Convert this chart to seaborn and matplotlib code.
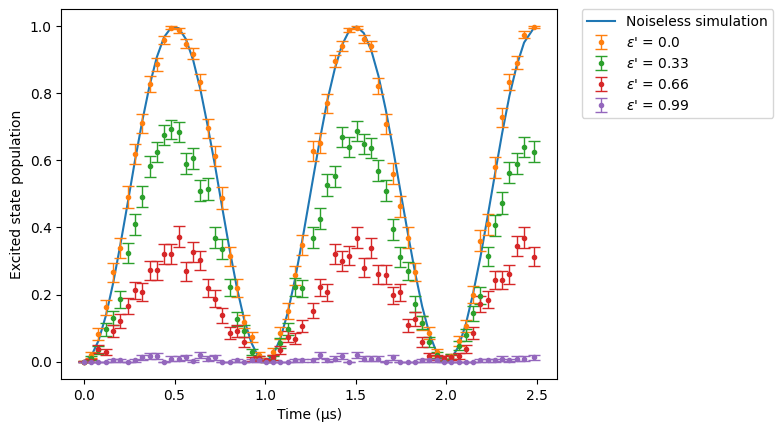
import matplotlib
matplotlib.use("Agg")
import matplotlib.pyplot as plt
import seaborn as sns

# =============================================================================
# 1. DATOS
# =============================================================================
# tiempos de medida en microsegundos (hay un salto tras 1.206 y antes del ultimo)
tiempo = [0.000, 0.040, 0.080, 0.121, 0.161, 0.201, 0.241, 0.281, 0.322, 0.362,
          0.402, 0.442, 0.482, 0.523, 0.563, 0.603, 0.643, 0.683, 0.724, 0.764,
          0.804, 0.844, 0.884, 0.925, 0.965, 1.005, 1.045, 1.085, 1.126, 1.166,
          1.206,
          1.264, 1.304, 1.344, 1.385, 1.425, 1.465, 1.505, 1.545, 1.586, 1.626,
          1.666, 1.706, 1.746, 1.787, 1.827, 1.867, 1.907, 1.947, 1.988, 2.028,
          2.068, 2.108, 2.148, 2.189, 2.229, 2.269, 2.309, 2.349, 2.390, 2.430,
          2.487]

# simulacion sin ruido
simulacion = [0.000, 0.016, 0.062, 0.137, 0.234, 0.349, 0.472, 0.598, 0.718, 0.823,
              0.908, 0.968, 0.997, 0.995, 0.962, 0.899, 0.811, 0.703, 0.583, 0.457,
              0.334, 0.221, 0.126, 0.055, 0.012, 0.000, 0.020, 0.070, 0.148, 0.248,
              0.364,
              0.544, 0.667, 0.780, 0.874, 0.945, 0.988, 1.000, 0.980, 0.929, 0.852,
              0.752, 0.636, 0.512, 0.386, 0.268, 0.165, 0.083, 0.027, 0.002, 0.008,
              0.045, 0.111, 0.202, 0.312, 0.434, 0.559, 0.682, 0.793, 0.885, 0.952,
              0.998]

eps_labels = ["0.0", "0.33", "0.66", "0.99"]
colores = ["tab:orange", "tab:green", "tab:red", "tab:purple"]

pob_00 = [0.000, 0.020, 0.082, 0.162, 0.266, 0.339, 0.491, 0.619, 0.711, 0.828,
          0.887, 0.960, 0.996, 0.988, 0.949, 0.919, 0.834, 0.696, 0.613, 0.488,
          0.314, 0.219, 0.119, 0.073, 0.020, 0.003, 0.029, 0.085, 0.151, 0.257,
          0.349,
          0.628, 0.653, 0.770, 0.897, 0.943, 0.990, 0.996, 0.963, 0.942, 0.822,
          0.709, 0.560, 0.463, 0.370, 0.267, 0.115, 0.085, 0.027, 0.005, 0.015,
          0.062, 0.106, 0.200, 0.361, 0.409, 0.580, 0.729, 0.834, 0.892, 0.975,
          0.998]
err_00 = [0.002, 0.009, 0.017, 0.023, 0.028, 0.030, 0.032, 0.031, 0.029, 0.024,
          0.020, 0.012, 0.004, 0.007, 0.014, 0.017, 0.024, 0.029, 0.031, 0.032,
          0.029, 0.026, 0.020, 0.016, 0.009, 0.003, 0.011, 0.018, 0.023, 0.028,
          0.030,
          0.031, 0.030, 0.027, 0.019, 0.015, 0.006, 0.004, 0.012, 0.015, 0.024,
          0.029, 0.031, 0.032, 0.031, 0.028, 0.020, 0.018, 0.010, 0.004, 0.008,
          0.015, 0.019, 0.025, 0.030, 0.031, 0.031, 0.028, 0.024, 0.020, 0.010,
          0.003]

pob_33 = [0.000, 0.010, 0.035, 0.096, 0.131, 0.186, 0.324, 0.409, 0.492, 0.582,
          0.625, 0.676, 0.693, 0.685, 0.590, 0.607, 0.510, 0.515, 0.370, 0.336,
          0.221, 0.128, 0.092, 0.028, 0.010, 0.003, 0.010, 0.056, 0.097, 0.223,
          0.218,
          0.369, 0.426, 0.527, 0.553, 0.670, 0.640, 0.688, 0.649, 0.637, 0.569,
          0.510, 0.394, 0.312, 0.270, 0.171, 0.116, 0.058, 0.020, 0.005, 0.014,
          0.047, 0.079, 0.144, 0.196, 0.314, 0.406, 0.473, 0.564, 0.590, 0.641,
          0.626]
err_33 = [0.002, 0.006, 0.012, 0.019, 0.021, 0.025, 0.030, 0.031, 0.032, 0.031,
          0.031, 0.030, 0.029, 0.029, 0.031, 0.031, 0.032, 0.032, 0.031, 0.030,
          0.026, 0.021, 0.018, 0.010, 0.006, 0.003, 0.006, 0.015, 0.019, 0.026,
          0.026,
          0.031, 0.031, 0.032, 0.031, 0.030, 0.030, 0.029, 0.030, 0.030, 0.031,
          0.032, 0.031, 0.029, 0.028, 0.024, 0.020, 0.015, 0.009, 0.004, 0.007,
          0.013, 0.017, 0.022, 0.025, 0.029, 0.031, 0.032, 0.031, 0.031, 0.030,
          0.031]

pob_66 = [0.000, 0.003, 0.037, 0.028, 0.092, 0.120, 0.166, 0.212, 0.208, 0.272,
          0.272, 0.322, 0.322, 0.373, 0.269, 0.328, 0.302, 0.220, 0.188, 0.138,
          0.086, 0.090, 0.059, 0.008, 0.010, 0.005, 0.012, 0.034, 0.074, 0.068,
          0.106,
          0.152, 0.221, 0.206, 0.322, 0.300, 0.316, 0.369, 0.280, 0.339, 0.260,
          0.259, 0.198, 0.206, 0.108, 0.126, 0.059, 0.017, 0.012, 0.010, 0.012,
          0.017, 0.037, 0.085, 0.171, 0.184, 0.243, 0.243, 0.260, 0.346, 0.369,
          0.313]
err_66 = [0.002, 0.004, 0.012, 0.010, 0.018, 0.021, 0.024, 0.026, 0.026, 0.028,
          0.028, 0.030, 0.030, 0.031, 0.028, 0.030, 0.029, 0.026, 0.025, 0.022,
          0.018, 0.018, 0.015, 0.006, 0.006, 0.004, 0.007, 0.011, 0.017, 0.016,
          0.019,
          0.023, 0.026, 0.026, 0.030, 0.029, 0.029, 0.031, 0.028, 0.030, 0.028,
          0.028, 0.025, 0.026, 0.020, 0.021, 0.015, 0.008, 0.007, 0.006, 0.007,
          0.008, 0.012, 0.018, 0.024, 0.025, 0.027, 0.027, 0.028, 0.030, 0.031,
          0.029]

pob_99 = [0.000, 0.000, 0.000, 0.000, 0.004, 0.004, 0.000, 0.004, 0.013, 0.017,
          0.017, 0.000, 0.009, 0.009, 0.013, 0.002, 0.019, 0.009, 0.013, 0.000,
          0.000, 0.004, 0.000, 0.004, 0.004, 0.000, 0.000, 0.000, 0.000, 0.004,
          0.004,
          0.004, 0.019, 0.004, 0.009, 0.017, 0.000, 0.019, 0.009, 0.009, 0.009,
          0.000, 0.013, 0.000, 0.000, 0.000, 0.004, 0.004, 0.004, 0.000, 0.000,
          0.000, 0.000, 0.000, 0.004, 0.004, 0.004, 0.009, 0.004, 0.009, 0.009,
          0.013]
err_99 = [0.000, 0.000, 0.000, 0.000, 0.004, 0.004, 0.000, 0.004, 0.007, 0.008,
          0.008, 0.000, 0.006, 0.006, 0.007, 0.003, 0.009, 0.006, 0.007, 0.000,
          0.000, 0.004, 0.000, 0.004, 0.004, 0.000, 0.000, 0.000, 0.000, 0.004,
          0.004,
          0.004, 0.009, 0.004, 0.006, 0.008, 0.000, 0.009, 0.006, 0.006, 0.006,
          0.000, 0.007, 0.000, 0.000, 0.000, 0.004, 0.004, 0.004, 0.000, 0.000,
          0.000, 0.000, 0.000, 0.004, 0.004, 0.004, 0.006, 0.004, 0.006, 0.006,
          0.007]

poblaciones = [pob_00, pob_33, pob_66, pob_99]
errores = [err_00, err_33, err_66, err_99]

# =============================================================================
# 2. GRAFICO
# =============================================================================
fig = plt.figure(figsize=(7.83, 4.32), dpi=100)
ax = fig.add_axes([0.0785, 0.1227, 0.6328, 0.8558])

sns.lineplot(x=tiempo, y=simulacion, ax=ax, color="tab:blue",
             linewidth=1.5, label="Noiseless simulation")

for eps, pob, err, col in zip(eps_labels, poblaciones, errores, colores):
    ax.errorbar(tiempo, pob, yerr=err, fmt=".", color=col, capsize=4,
                elinewidth=1, capthick=1, markersize=6,
                label=r"$\epsilon$' = " + eps)

ax.set_xlabel("Time (µs)")
ax.set_ylabel("Excited state population")
ax.set_xticks([0.0, 0.5, 1.0, 1.5, 2.0, 2.5])
ax.set_yticks([0.0, 0.2, 0.4, 0.6, 0.8, 1.0])
ax.legend(bbox_to_anchor=(1.05, 1), loc="upper left", borderaxespad=0.)

fig.savefig("out.png", dpi=100)
